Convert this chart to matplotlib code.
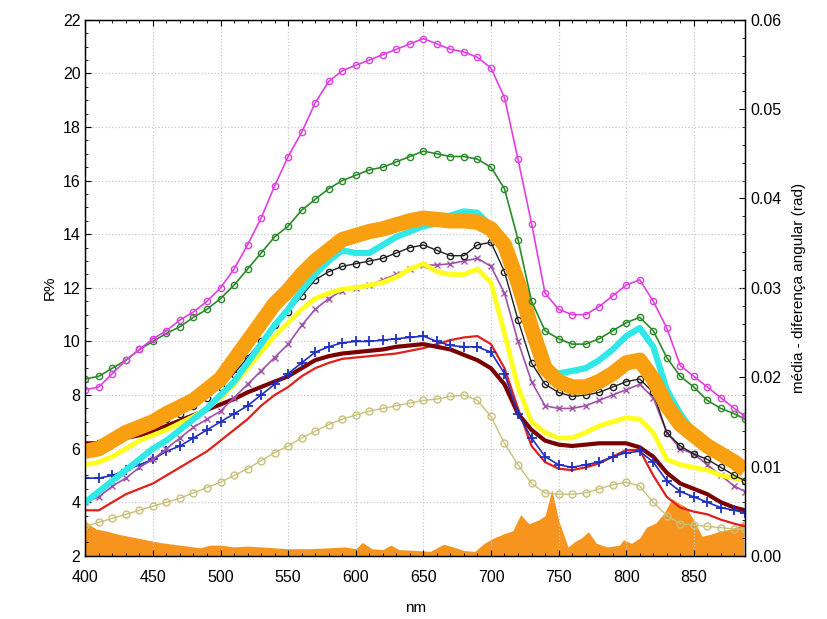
import numpy as np
import matplotlib
matplotlib.use("Agg")
import matplotlib.pyplot as plt

plt.rcParams['font.family'] = ['Liberation Sans', 'DejaVu Sans']

wl = [400, 410, 420, 430, 440, 450, 460, 470, 480, 490, 500, 510, 520, 530, 540,
      550, 560, 570, 580, 590, 600, 610, 620, 630, 640, 650, 660, 670, 680, 690,
      700, 710, 720, 730, 740, 750, 760, 770, 780, 790, 800, 810, 820, 830, 840,
      850, 860, 870, 880, 888]

magenta = [8.2, 8.3, 8.8, 9.3, 9.7, 10.1, 10.4, 10.8, 11.1, 11.5, 12.0, 12.7, 13.6, 14.6, 15.8,
           16.9, 17.8, 18.9, 19.7, 20.1, 20.3, 20.5, 20.7, 20.9, 21.1, 21.3, 21.1, 20.9, 20.8, 20.6,
           20.2, 19.1, 16.8, 14.4, 11.8, 11.2, 11.0, 11.0, 11.3, 11.7, 12.1, 12.3, 11.5, 10.5, 9.1,
           8.7, 8.3, 7.9, 7.5, 7.2]
green = [8.6, 8.7, 9.0, 9.3, 9.7, 10.0, 10.3, 10.55, 10.9, 11.2, 11.6, 12.1, 12.7, 13.3, 13.9,
         14.3, 14.9, 15.3, 15.7, 16.0, 16.2, 16.4, 16.5, 16.7, 16.9, 17.1, 17.0, 16.9, 16.9, 16.8,
         16.5, 15.7, 13.8, 11.5, 10.4, 10.1, 9.9, 9.9, 10.1, 10.4, 10.7, 10.9, 10.4, 9.4, 8.7,
         8.3, 7.8, 7.5, 7.3, 7.1]
orange = [5.9, 6.0, 6.3, 6.6, 6.8, 7.0, 7.3, 7.55, 7.8, 8.2, 8.6, 9.3, 10.0, 10.7, 11.4,
          11.9, 12.5, 13.0, 13.4, 13.8, 13.95, 14.1, 14.2, 14.35, 14.5, 14.6, 14.55, 14.5, 14.5, 14.45,
          14.2, 13.6, 12.2, 10.5, 9.0, 8.5, 8.3, 8.3, 8.5, 8.8, 9.2, 9.3, 8.6, 7.6, 6.9,
          6.5, 6.1, 5.8, 5.5, 5.2]
cyan = [4.0, 4.4, 4.8, 5.2, 5.6, 6.0, 6.3, 6.7, 7.1, 7.5, 8.0, 8.5, 9.2, 9.9, 10.6,
        11.2, 11.9, 12.5, 13.0, 13.4, 13.3, 13.3, 13.6, 13.9, 14.1, 14.3, 14.4, 14.7, 14.85, 14.8,
        14.3, 13.4, 11.8, 10.0, 9.0, 8.8, 8.9, 9.0, 9.3, 9.7, 10.2, 10.5, 9.8, 8.2, 7.3,
        6.6, 6.2, 5.9, 5.6, 5.4]
black = [6.1, 6.2, 6.3, 6.5, 6.7, 6.9, 7.1, 7.3, 7.6, 7.9, 8.3, 8.8, 9.4, 10.0, 10.6,
         11.1, 11.7, 12.3, 12.6, 12.8, 12.9, 13.0, 13.1, 13.3, 13.5, 13.6, 13.4, 13.2, 13.2, 13.6,
         13.7, 12.6, 10.8, 9.2, 8.4, 8.1, 7.95, 8.0, 8.1, 8.3, 8.5, 8.6, 8.1, 6.6, 6.1,
         5.8, 5.6, 5.3, 5.0, 4.8]
purple = [4.0, 4.2, 4.6, 4.9, 5.3, 5.6, 6.0, 6.4, 6.8, 7.1, 7.4, 7.9, 8.4, 8.9, 9.4,
          9.9, 10.6, 11.2, 11.6, 11.9, 12.0, 12.1, 12.3, 12.5, 12.7, 12.85, 12.85, 12.9, 13.0, 13.1,
          12.8, 11.8, 10.0, 8.5, 7.6, 7.5, 7.5, 7.6, 7.8, 8.0, 8.2, 8.4, 7.9, 6.6, 6.0,
          5.8, 5.4, 5.0, 4.6, 4.4]
yellow = [5.4, 5.5, 5.7, 6.0, 6.3, 6.5, 6.7, 6.95, 7.2, 7.5, 7.9, 8.4, 9.0, 9.6, 10.2,
          10.7, 11.2, 11.6, 11.8, 11.95, 12.0, 12.1, 12.2, 12.4, 12.7, 12.9, 12.6, 12.5, 12.5, 12.7,
          12.2, 10.3, 8.3, 7.0, 6.6, 6.4, 6.4, 6.6, 6.85, 7.0, 7.15, 7.1, 6.6, 5.6, 5.4,
          5.3, 5.2, 5.0, 4.9, 4.8]
blue = [4.9, 4.9, 5.0, 5.2, 5.4, 5.6, 5.9, 6.1, 6.4, 6.7, 7.0, 7.3, 7.6, 8.0, 8.4,
        8.8, 9.2, 9.6, 9.8, 9.95, 10.0, 10.0, 10.05, 10.1, 10.15, 10.2, 10.0, 9.85, 9.8, 9.8,
        9.6, 8.8, 7.3, 6.4, 5.7, 5.4, 5.3, 5.4, 5.5, 5.7, 5.85, 5.9, 5.5, 4.8, 4.4,
        4.2, 4.0, 3.8, 3.7, 3.6]
maroon = [6.2, 6.2, 6.3, 6.4, 6.5, 6.65, 6.85, 7.05, 7.25, 7.45, 7.65, 7.85, 8.1, 8.3, 8.5,
          8.7, 9.0, 9.3, 9.45, 9.55, 9.6, 9.65, 9.7, 9.8, 9.85, 9.9, 9.8, 9.7, 9.5, 9.3,
          9.0, 8.4, 7.3, 6.7, 6.3, 6.15, 6.1, 6.15, 6.2, 6.2, 6.2, 6.05, 5.7, 5.1, 4.7,
          4.5, 4.3, 4.0, 3.8, 3.7]
red = [3.7, 3.7, 4.0, 4.3, 4.5, 4.7, 5.0, 5.3, 5.6, 5.9, 6.3, 6.7, 7.1, 7.6, 8.0,
       8.3, 8.7, 9.0, 9.2, 9.35, 9.4, 9.45, 9.5, 9.55, 9.65, 9.75, 9.9, 10.05, 10.15, 10.2,
       9.9, 9.0, 7.5, 6.1, 5.5, 5.25, 5.2, 5.3, 5.45, 5.7, 5.95, 5.95, 5.0, 4.2, 3.8,
       3.65, 3.55, 3.35, 3.2, 3.1]
olive = [3.1, 3.25, 3.4, 3.55, 3.7, 3.85, 4.0, 4.15, 4.35, 4.55, 4.75, 5.0, 5.25, 5.55, 5.85,
         6.1, 6.4, 6.65, 6.9, 7.1, 7.25, 7.4, 7.5, 7.6, 7.7, 7.8, 7.85, 7.95, 8.0, 7.8,
         7.2, 6.2, 5.4, 4.7, 4.35, 4.3, 4.3, 4.35, 4.5, 4.65, 4.75, 4.6, 4.0, 3.5, 3.2,
         3.15, 3.1, 3.05, 3.0, 3.0]

# mean angular difference (right axis)
dif_wl = [400, 403, 408, 415, 425, 435, 445, 455, 465, 475, 485, 492, 500, 510, 520,
          530, 540, 550, 565, 580, 592, 600, 605, 612, 620, 626, 632, 645, 655, 665,
          672, 680, 688, 695, 702, 710, 716, 722, 728, 735, 740, 745, 750, 757, 762,
          767, 772, 778, 786, 795, 798, 804, 810, 815, 822, 828, 834, 840, 844, 850,
          856, 862, 870, 878, 884, 887]
dif = [0.0040, 0.0035, 0.0030, 0.0028, 0.0024, 0.0021, 0.0018, 0.0015, 0.0013, 0.0011,
       0.0009, 0.0012, 0.0012, 0.0010, 0.0011, 0.0010, 0.0009, 0.0008, 0.0008, 0.0009,
       0.0010, 0.0008, 0.0015, 0.0008, 0.0007, 0.0012, 0.0007, 0.0006, 0.0005, 0.0013,
       0.0010, 0.0006, 0.0005, 0.0014, 0.0020, 0.0025, 0.0028, 0.0046, 0.0036, 0.0040,
       0.0045, 0.0074, 0.0040, 0.0010, 0.0016, 0.0020, 0.0027, 0.0014, 0.0010, 0.0012,
       0.0018, 0.0014, 0.0020, 0.0032, 0.0037, 0.0048, 0.0064, 0.0058, 0.0055, 0.0040,
       0.0022, 0.0024, 0.0028, 0.0030, 0.0034, 0.0040]

fig = plt.figure(figsize=(8.28, 6.19), dpi=100)
ax = fig.add_axes([0.103, 0.102, 0.797, 0.866])
ax2 = ax.twinx()

ax2.fill_between(dif_wl, 0, dif, color="#f7941d", lw=0)
ax2.set_ylim(0, 0.06)
ax2.set_yticks(np.arange(0, 0.061, 0.01))
ax2.set_yticklabels([f"{v:.2f}" for v in np.arange(0, 0.061, 0.01)])
ax2.set_ylabel("média - diferença angular (rad)", fontsize=11, labelpad=8)

ax.set_zorder(ax2.get_zorder() + 1)
ax.patch.set_visible(False)

ax.plot(wl, olive, color="#c8c07a", marker="o", mfc="none", ms=5, mew=1, lw=1)
ax.plot(wl, red, color="#e0201c", lw=1.6)
ax.plot(wl, maroon, color="#7a0000", lw=3)
ax.plot(wl, blue, color="#2030c0", marker="+", ms=7, mew=1.3, lw=1.2)
ax.plot(wl, purple, color="#a050a8", marker="x", ms=5, mew=1, lw=1.2)
ax.plot(wl, yellow, color="#ffff20", lw=3.5)
ax.plot(wl, black, color="#202020", marker="o", mfc="none", ms=4.5, mew=1, lw=1)
ax.plot(wl, cyan, color="#30e8e8", lw=4.5)
ax.plot(wl, orange, color="#f9a011", lw=11, solid_capstyle="butt")
ax.plot(wl, green, color="#2a8a2a", marker="o", mfc="none", ms=4.5, mew=1, lw=1.2)
ax.plot(wl, magenta, color="#e040e0", marker="o", mfc="none", ms=4.5, mew=1, lw=1.2)

ax.set_xlim(400, 888)
ax.set_ylim(2, 22)
ax.set_xticks(range(400, 851, 50))
ax.set_yticks(range(2, 23, 2))
ax.set_xlabel("nm", fontsize=11, labelpad=12)
ax.set_ylabel("R%", fontsize=11)
ax.grid(True, color="#c8c8c8", linestyle=":", lw=0.9)
ax.minorticks_on()
ax2.minorticks_on()
ax.tick_params(which="both", direction="in", top=True, labelsize=11.5)
ax.tick_params(axis="x", which="major", pad=10)
ax.tick_params(which="major", length=4)
ax.tick_params(which="minor", length=2)
ax2.tick_params(which="both", direction="in", labelsize=11.5)
ax2.tick_params(which="major", length=4)
ax2.tick_params(which="minor", length=2)
for sp in ax.spines.values():
    sp.set_linewidth(1.0)

plt.savefig("out.png", dpi=100)
plt.close()
